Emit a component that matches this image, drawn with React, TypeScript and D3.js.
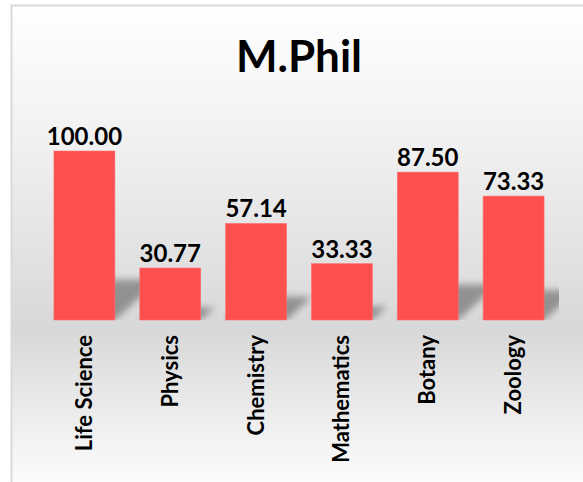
import { useEffect, useRef } from 'react'
import { select, scaleBand, scaleLinear, format } from 'd3'

// chart data
const categories = ['Life Science', 'Physics', 'Chemistry', 'Mathematics', 'Botany', 'Zoology']
const values = [100.0, 30.77, 57.14, 33.33, 87.5, 73.33]
const title = 'M.Phil'

const WIDTH = 583
const HEIGHT = 482
const FONT = 'Lato, "Open Sans", sans-serif'
const BAR_COLOR = '#ff5050'

export default function App() {
  const svgRef = useRef<SVGSVGElement | null>(null)

  useEffect(() => {
    const svg = select(svgRef.current)
    svg.selectAll('*').remove()

    const defs = svg.append('defs')

    // background gradient - white at top, grey around the floor, white again at the bottom
    const grad = defs.append('linearGradient')
      .attr('id', 'bg')
      .attr('gradientUnits', 'userSpaceOnUse')
      .attr('x1', 0).attr('x2', 0)
      .attr('y1', 5).attr('y2', 482)
    grad.append('stop').attr('offset', '0%').attr('stop-color', '#ffffff')
    grad.append('stop').attr('offset', '30%').attr('stop-color', '#f0f0f0')
    grad.append('stop').attr('offset', '68%').attr('stop-color', '#d8d8d8')
    grad.append('stop').attr('offset', '100%').attr('stop-color', '#fcfcfc')

    defs.append('filter')
      .attr('id', 'blur')
      .attr('x', '-50%').attr('y', '-50%').attr('width', '200%').attr('height', '200%')
      .append('feGaussianBlur')
      .attr('stdDeviation', 3.5)

    // chart frame
    svg.append('rect')
      .attr('x', 11.5).attr('y', 5.5)
      .attr('width', 580).attr('height', 500)
      .attr('fill', 'url(#bg)')
      .attr('stroke', '#d9d9d9')
      .attr('stroke-width', 2)

    svg.append('text')
      .attr('x', 299)
      .attr('y', 72)
      .attr('text-anchor', 'middle')
      .style('font', `bold 44px ${FONT}`)
      .attr('fill', '#000')
      .text(title)

    const x = scaleBand<string>()
      .domain(categories)
      .range([41.5, 556.5])
      .paddingInner(0.29)
      .paddingOuter(0.145)

    const y = scaleLinear().domain([0, 100]).range([320, 151])

    defs.append('clipPath')
      .attr('id', 'plot')
      .append('rect')
      .attr('x', 30).attr('y', 100)
      .attr('width', 529).attr('height', 220)

    // perspective shadows behind the bars
    const shadows = svg.append('g')
      .attr('clip-path', 'url(#plot)')
      .append('g')
      .attr('filter', 'url(#blur)')

    shadows.selectAll('path')
      .data(values)
      .join('path')
      .attr('d', (d, i) => {
        const x0 = x(categories[i])!
        const x1 = x0 + x.bandwidth()
        const base = y(0)
        const hs = (y(0) - y(d)) * 0.24
        const dx = hs * 1.1
        return `M${x0},${base}L${x1},${base}L${x1 + dx},${base - hs}L${x0 + dx},${base - hs}Z`
      })
      .attr('fill', '#000')
      .attr('fill-opacity', 0.34)

    svg.append('g')
      .selectAll('rect')
      .data(values)
      .join('rect')
      .attr('x', (d, i) => x(categories[i])!)
      .attr('y', d => y(d))
      .attr('width', x.bandwidth())
      .attr('height', d => y(0) - y(d))
      .attr('fill', BAR_COLOR)
      .attr('stroke', '#ff7070')
      .attr('stroke-width', 0.6)

    const fmt = format('.2f')
    svg.append('g')
      .selectAll('text')
      .data(values)
      .join('text')
      .attr('x', (d, i) => x(categories[i])! + x.bandwidth() / 2)
      .attr('y', d => y(d) - 6)
      .attr('text-anchor', 'middle')
      .style('font', `bold 24px ${FONT}`)
      .attr('fill', '#000')
      .text(d => fmt(d))

    // rotated category labels
    svg.append('g')
      .selectAll('text')
      .data(categories)
      .join('text')
      .attr('transform', d => `translate(${x(d)! + x.bandwidth() / 2 + 7.5},335) rotate(-90)`)
      .attr('text-anchor', 'end')
      .style('font', `bold 22px ${FONT}`)
      .attr('fill', '#000')
      .text(d => d)
  }, [])

  return (
    <svg
      ref={svgRef}
      width={WIDTH}
      height={HEIGHT}
      style={{ position: 'absolute', left: 0, top: 0, background: '#fff' }}
    />
  )
}
